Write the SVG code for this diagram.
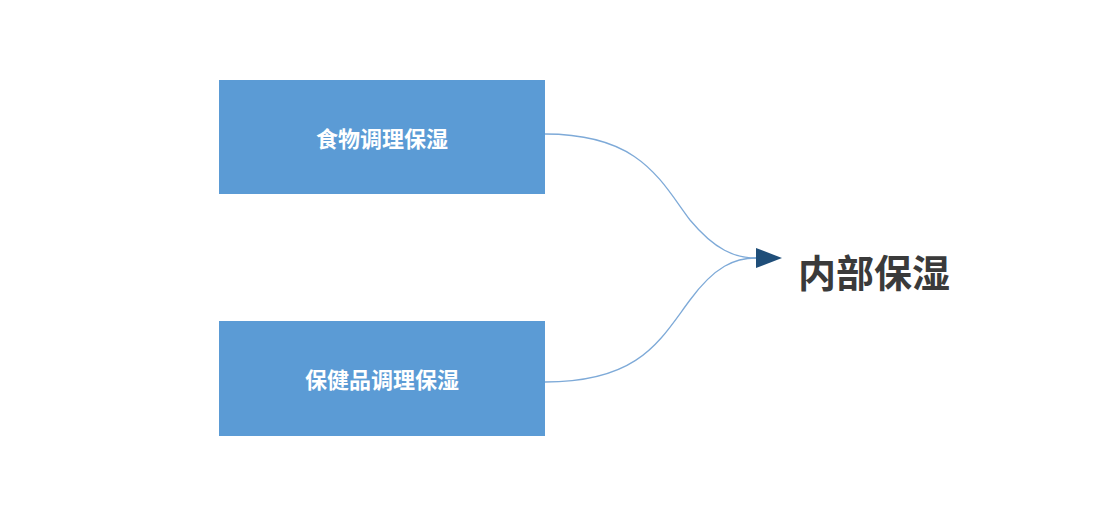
<svg xmlns="http://www.w3.org/2000/svg" width="1107" height="532" viewBox="0 0 1107 532">
<style>
.box{fill:#5b9bd5}
.bt{font-family:"Noto Sans CJK SC",sans-serif;font-weight:bold;font-size:22px;fill:#fff;text-anchor:middle;dominant-baseline:central}
.conn{fill:none;stroke:#7eaad8;stroke-width:1.3}
</style>
<defs><marker id="ah" viewBox="0 0 10 10" refX="0" refY="5" markerWidth="26" markerHeight="22" markerUnits="userSpaceOnUse" orient="auto"><path d="M0,0L10,5L0,10z" fill="#1f4e79"/></marker></defs>
<rect width="1107" height="532" fill="#fff"/>
<g id="n1"><rect class="box" x="219" y="80" width="326" height="114"/><text class="bt" x="382" y="137">食物调理保湿</text></g>
<g id="n2"><rect class="box" x="219" y="321" width="326" height="115"/><text class="bt" x="382" y="378">保健品调理保湿</text></g>
<g id="n3"><text x="798" y="270" font-family="Noto Sans CJK SC,sans-serif" font-weight="bold" font-size="38" fill="#3a3a3a" dominant-baseline="central">内部保湿</text></g>
<g id="connectors">
<path class="conn" d="M545,134 C640,134 660,180 690,220 C715,250 735,258 756,258"/>
<path class="conn" d="M545,382 C640,382 660,340 690,300 C715,266 735,258 756,258"/>
<path d="M756,248L782,258L756,268z" fill="#1f4e79"/>
</g>
</svg>
